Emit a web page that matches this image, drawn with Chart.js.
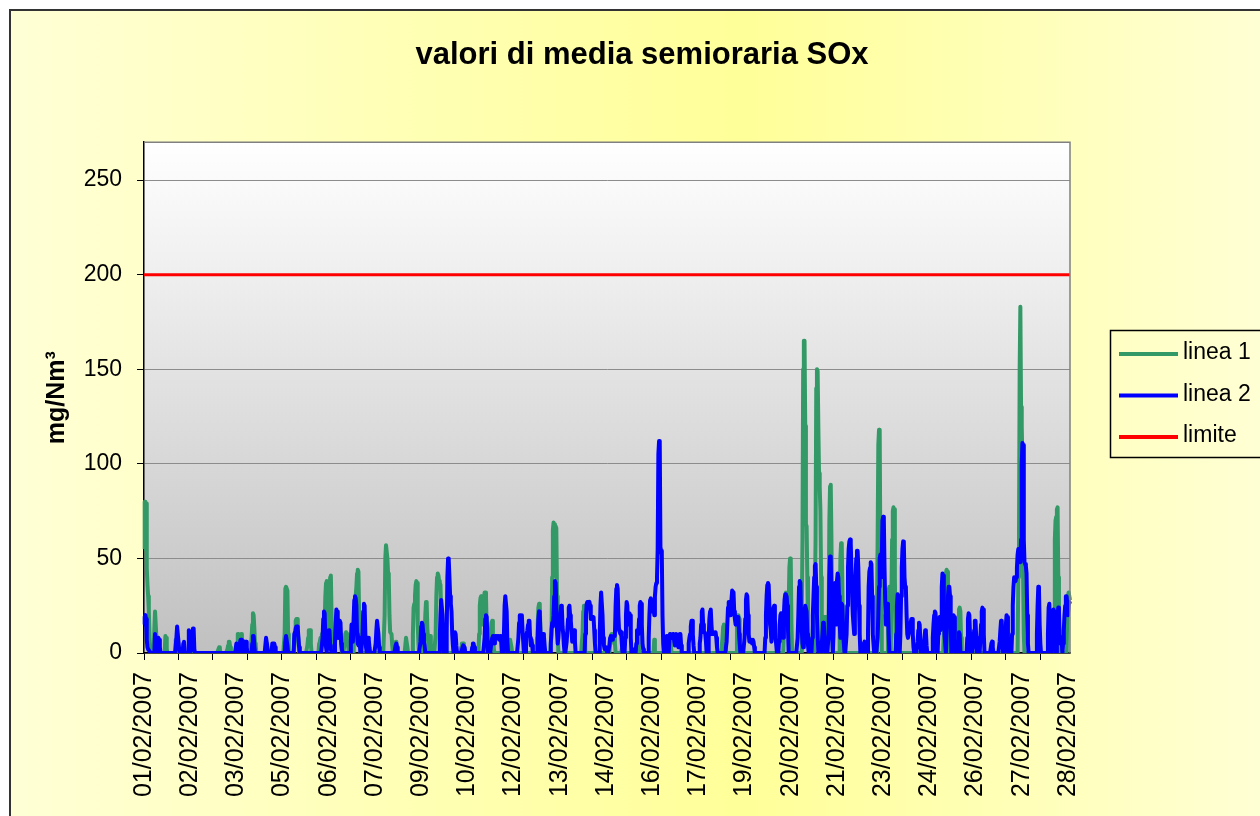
<!DOCTYPE html>
<html>
<head>
<meta charset="utf-8">
<script src="https://cdn.jsdelivr.net/npm/chart.js@4/dist/chart.umd.min.js"></script>
<style>html,body{margin:0;padding:0;background:#fff;}canvas{display:block;}</style>
</head>
<body>
<canvas id="c" width="1260" height="816"></canvas>
<script>
// ---- categories (one point every half hour, February 2007) ----
const DAYS = ['01/02/2007','02/02/2007','03/02/2007','04/02/2007','05/02/2007','06/02/2007','07/02/2007',
  '08/02/2007','09/02/2007','10/02/2007','11/02/2007','12/02/2007','13/02/2007','14/02/2007',
  '15/02/2007','16/02/2007','17/02/2007','18/02/2007','19/02/2007','20/02/2007','21/02/2007',
  '22/02/2007','23/02/2007','24/02/2007','25/02/2007','26/02/2007','27/02/2007','28/02/2007'];
const SLOTS_PER_DAY = 48;
const LABEL_EVERY = 67;   // category label interval
const TICK_EVERY = 50;    // tick-mark interval
const Y_TICKS = [0, 50, 100, 150, 200, 250];
const Y_MAX = 270;
const SERIES_NAMES = ['linea 1', 'linea 2', 'limite'];
const SERIES_COLORS = ['#339966', '#0000FF', '#FF0000'];

// ---- linea 1 (one row per day, 48 half-hour values) ----
const linea1 = [
[55,80,80,79,45,36,30,22,8,2, 1,0,0,0,0,12,22,22,8,2, 0,0,0,0,0,0,0,0,0,0, 0,9,8,2,0,0,0,0,0,0, 0,0,0,0,0,0,7,3],
[5,0,0,0,0,0,0,0,0,0, 0,0,0,0,0,0,0,0,0,0, 0,0,0,0,0,0,0,0,0,0, 0,0,0,0,0,0,0,0,0,0, 0,0,0,0,0,0,0,0],
[0,0,0,0,0,0,0,0,0,0, 0,0,2,3,2,0,0,0,0,0, 0,0,0,0,0,2,4,6,6,3, 0,0,0,0,0,0,0,0,0,4, 10,10,6,3,8,10,5,0],
[0,0,0,0,0,0,0,0,0,0, 0,0,8,15,21,20,13,5,4,0, 0,0,0,0,0,0,0,0,0,0, 0,0,0,5,0,0,0,0,0,0, 0,0,0,0,0,0,0,0],
[0,0,0,0,0,0,0,0,0,0, 0,0,10,34,35,35,33,10,0,0, 0,0,0,0,0,0,5,12,17,18, 18,12,6,0,0,0,0,0,0,0, 0,0,0,0,0,4,8,12],
[12,12,5,0,0,0,0,0,0,0, 0,0,0,0,5,6,8,8,10,10, 12,12,15,30,37,38,30,10,12,25, 40,41,20,8,3,0,0,0,10,12, 12,10,8,10,12,10,4,0],
[0,0,0,5,10,11,11,10,4,0, 0,0,0,0,0,0,0,15,25,30, 35,42,44,43,20,8,0,0,0,0, 0,0,0,0,0,0,0,0,0,0, 0,0,0,0,0,0,0,0],
[0,0,0,0,0,0,0,0,0,0, 0,0,0,20,50,57,57,50,42,40, 20,11,11,10,4,0,0,0,0,6, 6,0,0,0,0,0,0,0,0,0, 0,0,0,4,8,8,3,0],
[0,0,0,0,0,0,10,24,26,30, 36,38,37,15,5,0,0,0,0,0, 0,0,0,10,20,27,26,12,8,0, 8,9,5,0,0,0,0,0,0,10, 30,40,42,41,38,37,36,20],
[8,0,0,0,0,0,0,0,0,0, 0,0,0,0,0,0,0,0,0,0, 0,0,0,0,0,0,0,0,3,5, 5,5,4,0,0,0,0,0,0,0, 0,0,0,0,0,0,0,0],
[0,0,0,0,0,0,10,25,29,30, 28,15,18,28,32,32,30,12,0,0, 0,0,6,12,16,17,10,4,0,0, 0,0,0,0,0,0,0,0,0,0, 0,0,0,0,0,0,0,0],
[0,0,5,7,7,3,0,0,0,0, 0,0,0,0,0,0,0,0,0,0, 0,0,0,0,0,0,0,0,0,0, 0,0,0,0,0,0,0,0,0,0, 0,0,8,15,24,26,25,12],
[5,0,0,0,0,0,0,0,0,0, 0,0,0,0,0,10,40,65,69,68, 67,67,66,30,10,0,0,0,0,0, 0,0,0,0,0,0,0,0,0,0, 0,0,0,0,0,0,0,0],
[0,0,0,0,0,0,0,0,0,0, 0,0,10,22,25,20,0,0,0,0, 0,0,0,0,0,0,0,0,0,0, 0,0,0,0,0,0,0,0,0,0, 0,0,0,0,0,0,0,0],
[0,0,0,0,5,8,10,10,10,10, 8,5,0,0,0,0,0,0,0,0, 0,0,4,4,0,0,0,0,0,0, 0,0,0,0,0,0,0,0,0,0, 0,0,0,0,11,12,0,0],
[0,0,0,0,0,0,0,0,0,0, 0,0,0,0,0,0,0,0,0,0, 7,0,0,0,0,0,0,0,0,0, 0,0,0,0,0,0,0,0,0,0, 0,0,0,10,10,0,0,0],
[0,0,0,0,0,0,0,0,0,0, 0,0,0,0,0,0,0,0,0,0, 0,0,0,0,0,0,0,0,0,0, 0,0,0,0,0,0,0,0,0,0, 0,0,0,0,0,0,0,0],
[0,0,0,0,0,0,0,0,0,0, 0,0,0,0,0,0,0,0,0,0, 0,0,0,8,14,15,14,6,0,0, 0,0,0,0,0,0,0,0,0,0, 0,0,0,0,18,20,20,18],
[8,0,0,0,0,0,0,0,0,0, 0,0,0,0,0,0,0,0,0,0, 0,0,0,0,0,0,0,0,0,0, 0,0,0,0,0,0,0,0,0,0, 0,0,0,0,0,0,0,0],
[0,0,0,0,0,0,0,0,0,0, 0,0,0,0,0,0,0,20,30,32, 30,28,20,25,45,50,49,15,0,0, 0,0,0,0,0,0,0,0,0,0, 0,0,20,60,150,165,165,120],
[68,67,40,15,8,0,0,0,0,0, 0,0,0,0,60,140,150,149,120,95, 88,75,40,10,0,0,10,19,19,10, 0,0,0,20,70,88,89,60,20,0, 0,0,0,0,0,0,0,0],
[0,20,50,58,57,30,10,0,0,0, 0,0,0,0,0,0,0,0,0,0, 0,0,0,0,0,0,0,0,0,0, 0,0,0,0,0,0,0,0,0,0, 0,0,0,0,0,0,0,0],
[0,0,0,0,0,0,0,20,60,110, 118,117,50,20,0,0,0,0,0,0, 0,0,0,20,33,35,30,0,30,60, 75,77,76,40,10,0,0,0,0,0, 0,0,0,0,0,0,0,0],
[0,0,0,0,0,0,0,0,0,0, 0,0,0,0,0,0,0,0,0,0, 0,0,0,0,0,0,0,0,0,0, 0,0,0,0,0,0,0,0,0,0, 0,0,0,0,0,0,0,0],
[0,0,0,0,0,0,0,0,0,20, 35,42,44,43,20,0,0,0,0,0, 0,0,0,0,0,0,0,0,8,18, 23,24,22,8,0,0,0,0,0,0, 0,0,0,0,0,0,0,0],
[0,0,0,0,0,0,0,0,0,0, 0,0,0,0,0,0,0,0,0,0, 0,0,0,0,0,0,0,0,0,0, 0,0,0,0,0,0,0,0,0,0, 0,0,0,0,0,0,0,0],
[0,0,0,0,0,0,0,0,0,0, 0,0,0,0,0,0,0,0,0,0, 40,60,150,183,130,120,100,40,10,0, 0,0,0,0,0,0,0,0,0,0, 0,0,0,0,0,0,0,0],
[0,0,0,0,0,0,0,0,0,0, 0,0,0,0,0,0,0,0,0,0, 0,0,0,0,20,60,70,72,76,77, 40,10,0,0,0,0,0,0,0,0, 0,0,0,20,30,32,30,28]
].flat();

// ---- linea 2 (one row per day, 48 half-hour values) ----
const linea2 = [
[15,19,20,18,7,3,2,2,1,0, 0,0,0,0,0,0,10,10,4,0, 0,8,7,3,0,0,0,0,0,0, 0,0,0,0,0,0,0,0,0,0, 0,0,0,0,0,0,0,8],
[14,14,6,2,0,0,0,0,0,5, 6,1,0,0,0,0,0,12,11,3, 1,2,10,13,13,2,0,0,0,0, 0,0,0,0,0,0,0,0,0,0, 0,0,0,0,0,0,0,0],
[0,0,0,0,0,0,0,0,0,0, 0,0,0,0,0,0,0,0,0,0, 0,0,0,0,0,0,0,0,0,0, 0,0,0,0,0,0,0,0,5,3, 0,0,0,5,7,7,3,0],
[0,5,6,4,6,3,0,0,0,0, 0,0,0,5,9,9,4,0,0,0, 0,0,0,0,0,0,0,0,0,0, 0,0,4,8,8,3,0,0,0,0, 0,0,5,5,5,5,3,0],
[0,0,0,0,0,0,0,0,0,0, 0,0,0,6,9,9,4,0,0,0, 0,0,0,0,0,0,10,11,13,14, 14,13,8,3,0,0,0,0,0,0, 0,0,0,0,0,0,0,0],
[0,0,0,0,0,0,0,0,0,0, 0,0,0,0,0,0,0,0,0,8, 18,22,21,8,3,0,5,10,12,12, 4,2,0,0,0,0,0,6,15,23, 22,10,8,15,17,16,5,2],
[0,0,0,0,0,0,0,0,0,0, 0,0,6,15,14,6,18,28,30,29, 25,10,5,4,8,5,0,0,0,10, 22,26,25,10,3,0,5,8,7,3, 0,0,0,0,0,0,0,0],
[5,12,17,17,10,3,0,0,0,0, 0,0,0,0,0,0,0,0,0,0, 0,0,0,0,0,0,0,0,0,4, 5,3,0,0,0,0,0,0,0,0, 0,0,0,0,0,0,0,0],
[0,0,0,0,0,0,0,0,0,0, 0,0,0,0,0,0,0,6,14,16, 15,10,6,4,0,0,0,0,0,0, 0,0,0,0,0,0,0,0,0,0, 0,0,0,0,0,8,20,28],
[28,20,8,0,0,0,0,10,40,50, 49,40,30,26,22,10,4,0,6,11, 10,4,0,0,0,0,0,0,0,0, 3,4,4,3,0,0,0,0,0,0, 0,0,0,0,3,5,5,3],
[0,0,0,0,0,0,0,0,0,0, 0,0,0,0,8,18,20,19,8,0, 0,0,0,0,6,8,9,9,5,8, 9,9,8,9,9,7,8,9,6,0, 0,0,10,25,30,30,22,6],
[0,0,0,0,0,0,0,0,0,0, 0,0,0,0,0,8,16,20,20,19, 20,12,6,0,0,0,8,10,12,15, 17,17,8,4,7,4,0,0,0,0, 0,0,0,10,18,22,21,10],
[5,0,6,10,9,4,0,0,0,0, 0,0,0,0,5,12,16,14,20,30, 38,37,25,12,5,8,14,15,20,25, 24,14,10,4,0,0,0,6,12,18, 24,25,20,17,12,6,6,10],
[12,6,0,0,0,0,0,0,0,0, 0,0,0,0,0,0,10,20,26,27, 27,26,27,25,18,19,19,18,19,12, 5,0,0,0,0,0,0,10,25,32, 32,20,8,4,2,2,3,2],
[0,0,0,4,8,9,8,7,8,9, 9,10,25,34,36,34,20,12,11,10, 11,5,0,0,0,0,8,20,27,25, 15,18,21,20,8,0,0,0,0,2, 0,0,5,12,11,10,18,25],
[27,26,15,5,2,0,0,0,0,0, 0,0,8,20,28,29,27,22,26,25, 20,30,35,37,40,55,105,112,111,56, 54,52,20,5,0,0,0,5,9,9, 5,0,8,10,10,8,9,10],
[10,6,4,9,10,10,6,3,8,10, 10,4,0,0,0,0,0,0,0,0, 0,0,5,8,10,14,17,17,10,4, 0,0,0,0,0,0,0,0,5,8, 15,22,23,15,11,11,10,6],
[0,0,0,8,18,22,23,15,10,11, 11,10,11,11,8,3,0,0,0,0, 0,0,0,0,0,0,0,0,0,6, 15,24,27,25,20,22,28,33,33,32, 22,18,15,16,18,19,19,10],
[5,0,0,0,0,0,0,8,18,28, 31,30,20,10,6,7,6,7,5,7, 6,3,0,0,0,0,0,0,0,0, 0,0,0,0,0,0,0,8,20,30, 36,37,36,25,15,12,6,10],
[20,24,25,18,8,4,0,0,0,6, 15,20,21,18,10,8,20,28,31,30, 30,25,12,0,0,0,0,0,0,0, 0,0,0,0,0,0,8,20,35,38, 37,20,12,5,3,15,22,25],
[25,22,10,4,0,0,0,0,0,8, 20,30,40,46,47,35,20,10,0,0, 0,0,0,0,10,16,15,8,0,0, 0,0,0,10,40,51,50,30,10,0, 10,35,37,20,15,38,42,40],
[30,15,8,20,26,25,10,5,0,0, 0,10,25,45,55,59,60,58,45,30, 20,15,10,20,40,50,54,54,45,25, 10,0,0,0,0,0,5,6,0,0, 0,0,10,35,43,45,48,47],
[30,10,5,0,0,0,0,0,8,20, 35,50,52,40,50,70,72,71,45,26, 15,20,26,24,10,0,0,0,0,0, 0,0,0,0,0,10,25,31,30,15, 0,10,30,45,55,59,58,40],
[35,34,20,10,8,10,12,15,16,18, 18,10,3,0,0,0,0,0,6,12, 16,15,6,0,0,0,0,0,8,12, 11,4,0,0,0,0,0,0,0,0, 8,15,20,22,21,10,0,0],
[10,18,19,12,15,35,42,41,30,10, 5,0,10,20,30,35,35,30,15,0, 8,18,20,19,8,0,0,0,0,6, 11,10,0,0,0,0,0,0,0,0, 0,0,8,18,21,20,10,0],
[0,0,0,6,12,17,17,8,0,0, 0,0,0,8,15,22,24,23,10,0, 0,0,0,0,0,0,0,0,0,5, 6,3,0,0,0,0,0,0,0,0, 0,6,12,17,16,6,0,0],
[0,8,15,20,19,8,0,0,0,0, 0,10,25,35,40,40,38,40,45,52, 55,54,50,48,60,100,111,110,60,48, 47,46,42,20,5,0,0,0,0,0, 0,0,0,0,0,0,0,10],
[25,35,34,15,5,0,0,0,0,0, 0,0,0,0,0,10,24,26,15,0, 0,10,20,23,22,12,0,0,10,20, 24,22,8,5,8,6,0,5,12,20, 25,30,30,26,20,25,27,26]
].flat();

// ---- limite: constant threshold, value at first and last category ----
const limite = [200, 200];

// ---- tables built for the library ----
const categories = DAYS.flatMap(d => Array(SLOTS_PER_DAY).fill(d));
const lastIdx = categories.length - 1;
const limiteData = categories.map((_, i) => i === 0 ? limite[0] : (i === lastIdx ? limite[1] : null));

Chart.defaults.font.family = "'Liberation Sans', Arial, Helvetica, sans-serif";
Chart.defaults.color = '#000';

const decor = {
  id: 'decor',
  beforeDraw(chart) {
    const {ctx, chartArea: a, width: W, height: H} = chart;
    ctx.save();
    ctx.fillStyle = '#FFFFFF';
    ctx.fillRect(0, 0, W, H);
    const g = ctx.createLinearGradient(10, 0, 1275, 0);
    g.addColorStop(0, '#FFFFD6');
    g.addColorStop(0.58, '#FFFF99');
    g.addColorStop(1, '#FFFFD6');
    ctx.fillStyle = g;
    ctx.fillRect(10, 10, W, H);
    ctx.strokeStyle = '#333333';
    ctx.lineWidth = 2;
    ctx.beginPath();
    ctx.moveTo(10, H); ctx.lineTo(10, 10); ctx.lineTo(W, 10);
    ctx.stroke();
    const pg = ctx.createLinearGradient(0, a.top, 0, a.bottom);
    pg.addColorStop(0, '#FFFFFF');
    pg.addColorStop(1, '#C0C0C0');
    ctx.fillStyle = pg;
    ctx.fillRect(a.left, a.top, a.right - a.left, a.bottom - a.top);
    ctx.restore();
  },
  afterDraw(chart) {
    const {ctx, chartArea: a} = chart;
    ctx.save();
    // plot frame top / right
    ctx.strokeStyle = '#808080';
    ctx.lineWidth = 1.5;
    ctx.beginPath();
    ctx.moveTo(a.left, a.top); ctx.lineTo(a.right, a.top); ctx.lineTo(a.right, a.bottom);
    ctx.stroke();
    // legend
    const lx = 1110, ly = 330, lh = 127;
    ctx.strokeStyle = '#000';
    ctx.lineWidth = 1.5;
    ctx.strokeRect(lx + 0.5, ly + 0.5, 200, lh);
    ctx.font = "23px 'Liberation Sans', Arial, sans-serif";
    ctx.textBaseline = 'alphabetic';
    ctx.textAlign = 'left';
    chart.data.datasets.forEach((ds, i) => {
      const y = 354 + i * 41.5;
      ctx.strokeStyle = ds.borderColor;
      ctx.lineWidth = 4;
      ctx.beginPath();
      ctx.moveTo(1119, y); ctx.lineTo(1178, y);
      ctx.stroke();
      ctx.fillStyle = '#000';
      ctx.fillText(ds.label, 1183, y + 5);
    });
    ctx.restore();
  }
};

new Chart(document.getElementById('c'), {
  type: 'line',
  data: {
    labels: categories,
    datasets: [
      {label: SERIES_NAMES[0], data: linea1, borderColor: SERIES_COLORS[0], backgroundColor: SERIES_COLORS[0],
       borderWidth: 4, pointRadius: 0, tension: 0, fill: false, order: 2, borderJoinStyle: 'round'},
      {label: SERIES_NAMES[1], data: linea2, borderColor: SERIES_COLORS[1], backgroundColor: SERIES_COLORS[1],
       borderWidth: 4, pointRadius: 0, tension: 0, fill: false, order: 1, borderJoinStyle: 'round'},
      {label: SERIES_NAMES[2], data: limiteData, borderColor: SERIES_COLORS[2], backgroundColor: SERIES_COLORS[2],
       borderWidth: 3, pointRadius: 0, tension: 0, fill: false, order: 0, spanGaps: true}
    ]
  },
  options: {
    responsive: false,
    animation: false,
    devicePixelRatio: 1,
    events: [],
    layout: {padding: {top: 0, left: 24, right: 0, bottom: 0}},
    plugins: {
      legend: {display: false},
      tooltip: {enabled: false},
      title: {
        display: true,
        text: 'valori di media semioraria SOx',
        color: '#000',
        font: {size: 31, weight: 'bold'},
        padding: {top: 37, bottom: 68}
      }
    },
    scales: {
      x: {
        type: 'category',
        offset: false,
        grid: {
          display: true,
          drawOnChartArea: false,
          drawTicks: true,
          tickLength: 7,
          tickWidth: 1,
          tickColor: (c) => (c.index % TICK_EVERY === 0 ? '#000000' : 'rgba(0,0,0,0)')
        },
        border: {display: true, color: '#000', width: 1.5},
        ticks: {
          autoSkip: false,
          maxRotation: 90,
          minRotation: 90,
          padding: 12,
          color: '#000',
          font: {size: 25},
          callback: function (v, i) { return i % LABEL_EVERY === 0 ? this.getLabelForValue(v) : ''; }
        },
        afterFit: (s) => { s.height = 163; }
      },
      y: {
        min: 0,
        max: Y_MAX,
        ticks: {
          stepSize: 50,
          includeBounds: false,
          color: '#000',
          font: {size: 23},
          padding: 15,
          callback: (v) => (Y_TICKS.includes(v) ? String(v) : null)
        },
        grid: {color: '#8c8c8c', lineWidth: 1, tickLength: 7, tickColor: '#000'},
        border: {display: true, color: '#000', width: 1.5},
        title: {
          display: true,
          text: 'mg/Nm³',
          color: '#000',
          font: {size: 25, weight: 'bold'},
          padding: {top: 18, bottom: 0}
        },
        afterFit: (s) => { s.width = 120; }
      },
      legendSpace: {
        type: 'linear',
        position: 'right',
        display: true,
        grid: {display: false, drawTicks: false},
        border: {display: false},
        ticks: {display: false},
        afterFit: (s) => { s.width = 190; }
      }
    }
  },
  plugins: [decor]
});
</script>
</body>
</html>
